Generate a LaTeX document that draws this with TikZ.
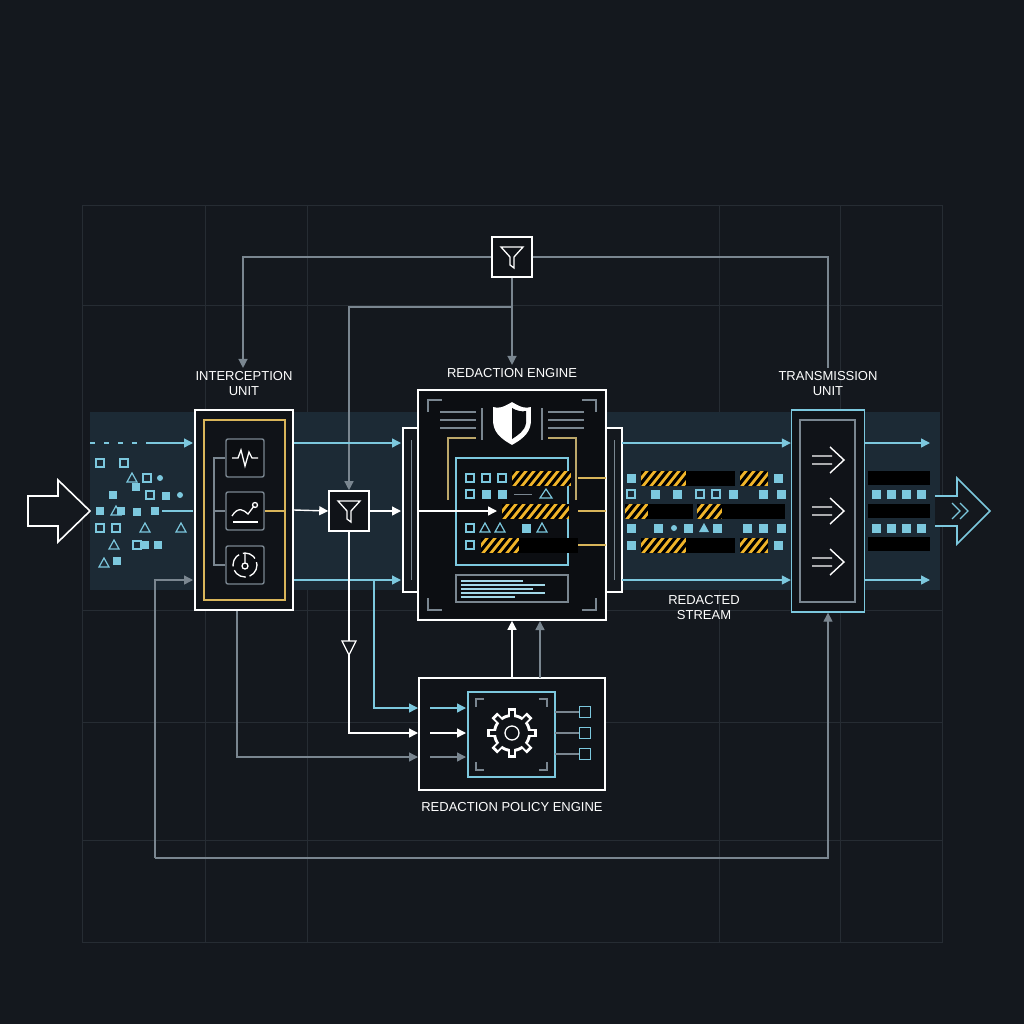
\documentclass[tikz,border=0pt]{standalone}
\usepackage{fontspec}
\setmainfont{Liberation Sans}
\usetikzlibrary{arrows.meta,positioning}
\definecolor{bg}{HTML}{14181E}
\definecolor{band}{HTML}{1C2A35}
\definecolor{cyanl}{HTML}{7CC8DE}
\definecolor{gold}{HTML}{D9B55A}
\definecolor{hz}{HTML}{F0B429}
\definecolor{grayl}{HTML}{7A8690}
\definecolor{gridc}{HTML}{262C33}
\tikzset{
  box/.style={draw=white,line width=1.6pt,fill=bg!80!black},
  cbox/.style={draw=cyanl,line width=1.4pt,fill=bg!80!black},
  ibox/.style={draw=grayl,line width=1.4pt,rounded corners=2pt,fill=bg!60!black,minimum size=38pt},
  lab/.style={text=white!85,font=\fontsize{13}{15}\selectfont,align=center},
  wline/.style={draw=white!90,line width=1.4pt,-{Triangle[length=9pt,width=9pt]}},
  cline/.style={draw=cyanl,line width=1.4pt,-{Triangle[length=9pt,width=9pt]}},
  gline/.style={draw=grayl,line width=1.4pt,-{Triangle[length=9pt,width=9pt]}},
  sq/.style={fill=cyanl,minimum size=9pt,inner sep=0pt},
  osq/.style={draw=cyanl,line width=1.2pt,minimum size=8pt,inner sep=0pt},
}
% hazard bar: x1,y1,x2,y2
\newcommand{\hazbar}[4]{%
  \begin{scope}
    \clip (#1,#2) rectangle (#3,#4);
    \fill[hz] (#1,#2) rectangle (#3,#4);
    \foreach \k in {-20,-12,...,140}
      \fill[black] (#1+\k,#4) -- (#1+\k+4,#4) -- (#1+\k+16,#2) -- (#1+\k+12,#2) -- cycle;
  \end{scope}}
\newcommand{\blkbar}[4]{\fill[black] (#1,#2) rectangle (#3,#4);}
\begin{document}
\begin{tikzpicture}[x=1pt,y=-1pt]
\fill[bg] (0,0) rectangle (1024,1024);
\useasboundingbox (0,0) rectangle (1024,1024);
% grid
\draw[gridc,line width=0.8pt] (82,205) rectangle (942,942);
\foreach \gx in {205,307,719,840} \draw[gridc,line width=0.6pt] (\gx,205) -- (\gx,942);
\foreach \gy in {305,610,722,840} \draw[gridc,line width=0.6pt] (82,\gy) -- (942,\gy);
% stream band
\fill[band] (90,412) rectangle (940,590);

% nodes
\node[box,minimum width=98pt,minimum height=200pt] (icpt) at (244,510) {};
\draw[gold,line width=1.4pt] (204,420) rectangle (285,600);
\node[ibox] (pulse) at (245,458) {};
\node[ibox] (curve) at (245,511) {};
\node[ibox] (gauge) at (245,565) {};
\node[lab,above=10pt of icpt] (icptlab) {INTERCEPTION\\UNIT};

\node[box,minimum width=40pt,minimum height=40pt] (filt) at (349,511) {};
\node[box,minimum width=40pt,minimum height=40pt] (topfilt) at (512,257) {};

\node[box,minimum width=188pt,minimum height=230pt] (eng) at (512,505) {};
\node[lab,above=8pt of eng] (englab) {REDACTION ENGINE};
\node[cbox,minimum width=73pt,minimum height=202pt] (trans) at (828,511) {};
\draw[grayl,line width=1.4pt] (800,420) rectangle (855,602);
\node[lab,above=10pt of trans] (translab) {TRANSMISSION\\UNIT};
\node[lab] (redlab) at (704,608) {REDACTED\\STREAM};

\node[box,minimum width=186pt,minimum height=112pt] (pol) at (512,734) {};
\node[lab,below=8pt of pol] (pollab) {REDACTION POLICY ENGINE};

% input / output arrows
\node[coordinate] (inp) at (90,511) {};
\draw[white,line width=1.6pt,fill=bg] (28,496) -- (58,496) -- (58,480) -- (inp) -- (58,542) -- (58,526) -- (28,526) -- cycle;
\node[coordinate] (outp) at (990,511) {};
\draw[cyanl,line width=1.6pt,fill=bg] (935,496) -- (957,496) -- (957,478) -- (outp) -- (957,544) -- (957,526) -- (935,526);
\draw[cyanl,line width=1.3pt] (952,503) -- (960,511) -- (952,519) (960,503) -- (968,511) -- (960,519);

% redaction engine details
\draw[white,line width=1.6pt,fill=bg] (403,428) rectangle (418,592) (606,428) rectangle (622,592);
\draw[grayl,line width=1pt] (411,440) -- (411,580) (614,440) -- (614,580);
\fill[bg!60!black] (420,392) rectangle (604,618);
\draw[white,line width=1.6pt] (418,390) rectangle (606,620);
\draw[grayl,line width=1.2pt] (428,412) -- (428,400) -- (442,400) (596,412) -- (596,400) -- (582,400)
  (428,598) -- (428,610) -- (442,610) (596,598) -- (596,610) -- (582,610);
\foreach \yy in {412,420,428} {\draw[grayl,line width=1.2pt] (440,\yy) -- (476,\yy); \draw[grayl,line width=1.2pt] (548,\yy) -- (584,\yy);}
\draw[grayl,line width=1.2pt] (482,408) -- (482,440) (542,408) -- (542,440);
\draw[gold!70!grayl,line width=1.2pt] (448,500) -- (448,438) -- (476,438) (576,500) -- (576,438) -- (548,438);
% shield
\draw[white,line width=1.6pt,fill=white!85] (512,403) .. controls (502,409) and (498,409) .. (494,408) -- (494,423) .. controls (495,434) and (505,440) .. (512,444) .. controls (519,440) and (529,434) .. (530,423) -- (530,408) .. controls (526,409) and (522,409) .. (512,403) -- cycle;
\fill[bg!60!black] (512,408) -- (512,439) .. controls (518,435) and (525,431) .. (526,423) -- (526,411) .. controls (522,412) and (517,411) .. (512,408) -- cycle;
% inner panel
\draw[cyanl,line width=1.4pt] (456,458) rectangle (568,565);
\foreach \xx in {470,486,502} \node[osq] at (\xx,478) {};
\node[osq] at (470,494) {}; \node[sq] at (486,494) {}; \node[sq] at (502,494) {};
\draw[grayl,line width=1pt] (514,494) -- (532,494);
\draw[cyanl,line width=1.2pt] (540,498) -- (546,489) -- (552,498) -- cycle;
\node[osq] at (470,528) {};
\foreach \xx in {485,500,542} \draw[cyanl,line width=1.2pt] (\xx-5,532) -- (\xx,523) -- (\xx+5,532) -- cycle;
\node[sq] at (526,528) {};
\node[osq] at (470,545) {};
\hazbar{512}{471}{571}{486}
\hazbar{502}{504}{569}{519}
\hazbar{481}{538}{519}{553}
\blkbar{519}{538}{578}{553}
\foreach \yy in {478,511,545} \draw[gold,line width=1.2pt] (578,\yy) -- (606,\yy);
\draw[grayl,line width=1.2pt] (456,575) rectangle (568,602);
\foreach \yy/\ww in {581/62,585/84,589/72,593/84,597/54} \draw[cyanl!70,line width=1.5pt] (461,\yy) -- (461+\ww,\yy);
\draw[wline] (418,511) -- (497,511);

% interception icons
\draw[white,line width=1.3pt] (232,458) -- (238,458) -- (241,450) -- (245,466) -- (249,452) -- (252,458) -- (258,458);
\draw[white,line width=1.3pt] (232,516) .. controls (238,506) and (244,510) .. (248,514) -- (254,506);
\draw[white,line width=1.3pt] (255,505) circle (2.5pt);
\draw[white,line width=1.3pt] (233,522) -- (258,522);
\draw[white,line width=1.3pt,dash pattern=on 14pt off 4pt] (245,565) circle (12);
\draw[white,line width=1.3pt] (245,553) -- (245,563) (245,566) circle (3pt);
\draw[grayl,line width=1.2pt] (225,458) -- (214,458) -- (214,565) -- (225,565) (214,511) -- (225,511);
\draw[gold,line width=1.2pt] (265,511) -- (285,511);

% filter icons
\foreach \ff in {filt,topfilt}
  \draw[white,line width=1.3pt] ([shift={(-11,-10)}]\ff.center) -- ([shift={(11,-10)}]\ff.center) -- ([shift={(2,0)}]\ff.center) -- ([shift={(2,11)}]\ff.center) -- ([shift={(-2,8)}]\ff.center) -- ([shift={(-2,0)}]\ff.center) -- cycle;

% transmission arrows
\foreach \yy in {460,511,562}
  \draw[white,line width=1.4pt] (812,\yy-4) -- (832,\yy-4) (812,\yy+4) -- (832,\yy+4) (830,\yy-13) -- (844,\yy) -- (830,\yy+13);

% policy engine
\draw[cyanl,line width=1.4pt] (468,692) rectangle (555,777);
\draw[grayl,line width=1.2pt] (476,707) -- (476,699) -- (484,699) (547,707) -- (547,699) -- (539,699)
  (476,762) -- (476,770) -- (484,770) (547,762) -- (547,770) -- (539,770);
\fill[white] (512,733) circle (19);
\foreach \a in {0,45,...,315} \fill[white,rotate around={\a:(512,733)}] (508,708) rectangle (516,716);
\fill[bg!80!black] (512,733) circle (16);
\foreach \a in {0,45,...,315} \fill[bg!80!black,rotate around={\a:(512,733)}] (510,711) rectangle (514,718);
\draw[white,line width=1.3pt] (512,733) circle (7);
\foreach \yy in {712,733,754} {\draw[grayl,line width=1.2pt] (555,\yy) -- (579,\yy); \node[osq,minimum size=11pt] at (585,\yy) {};}
\draw[cline] (430,708) -- (466,708);
\draw[wline] (430,733) -- (466,733);
\draw[gline] (430,757) -- (466,757);

% input data scatter
\foreach \xx/\yy in {136/487,113/495,121/511,155/511,166/496,145/545,158/545,117/561,137/512,100/511} \node[sq,minimum size=8pt] at (\xx,\yy) {};
\foreach \xx/\yy in {100/463,124/463,147/478,100/528,116/528,137/545,150/495} \node[osq] at (\xx,\yy) {};
\foreach \xx/\yy in {132/478,145/528,116/511,104/563,114/545,181/528} \draw[cyanl,line width=1.2pt] (\xx-5,\yy+4) -- (\xx,\yy-5) -- (\xx+5,\yy+4) -- cycle;
\foreach \xx/\yy in {160/478,180/495} \fill[cyanl] (\xx,\yy) circle (3);
\draw[cyanl,line width=1.3pt,dash pattern=on 5pt off 9pt] (90,443) -- (150,443);
\draw[cyanl,line width=1.3pt] (162,511) -- (193,511);

% redacted stream rows
\foreach \xx in {631,778} {\node[sq] at (\xx,478) {}; \node[sq] at (\xx,545) {};}
\hazbar{641}{471}{686}{486} \blkbar{686}{471}{735}{486} \hazbar{740}{471}{768}{486}
\hazbar{641}{538}{686}{553} \blkbar{686}{538}{735}{553} \hazbar{740}{538}{768}{553}
\hazbar{625}{504}{648}{519} \blkbar{648}{504}{693}{519} \hazbar{697}{504}{722}{519} \blkbar{722}{504}{785}{519}
\foreach \xx in {655,677,733,763,781} \node[sq] at (\xx,494) {};
\foreach \xx in {631,700,716} \node[osq] at (\xx,494) {};
\foreach \xx in {631,658,688,717,747,763,781} \node[sq] at (\xx,528) {};
\fill[cyanl] (674,528) circle (3);
\fill[cyanl] (699,532) -- (704,523) -- (709,532) -- cycle;
\foreach \yy in {478,511,544} {\blkbar{868}{\yy-7}{930}{\yy+7}}
\foreach \xx in {876,891,906,921} {\node[sq] at (\xx,494) {}; \node[sq] at (\xx,528) {};}

% connectors
\coordinate (tl) at (243,257); \coordinate (tr) at (828,257);
\draw[gline] (topfilt.west) -- (tl) -- (icptlab.north -| tl);
\draw[grayl,line width=1.4pt] (topfilt.east) -- (tr) -- (translab.north -| tr);
\draw[gline] (topfilt.south) -- (englab.north);
\draw[gline] (512,307) -- (349,307) -- (filt.north);
\draw[cline] (icpt.east |- 0,443) -- (401,443);
\draw[cline] (icpt.east |- 0,580) -- (401,580);
\draw[wline] (icpt.east) -- (filt.west);
\draw[wline] (filt.east) -- (401,511);
\draw[cline] (622,443) -- (trans.west |- 0,443);
\draw[cline] (622,580) -- (trans.west |- 0,580);
\draw[cline] (trans.east |- 0,443) -- (930,443);
\draw[cline] (trans.east |- 0,580) -- (930,580);
\draw[cline] (150,443) -- (193,443);
\draw[gline] (155,858) -- (155,580) -- (193,580);
\draw[gline] (155,858) -- (828,858) -- (trans.south);
\draw[wline] (filt.south) -- (349,733) -- (418,733);
\draw[white,line width=1.3pt,fill=bg] (342,641) -- (356,641) -- (349,655) -- cycle;
\draw[cline] (374,580) -- (374,708) -- (418,708);
\draw[gline] (237,611) -- (237,757) -- (418,757);
\draw[wline] (pol.north) -- (eng.south);
\draw[gline] (540,678) -- (540,621);
\end{tikzpicture}
\end{document}
